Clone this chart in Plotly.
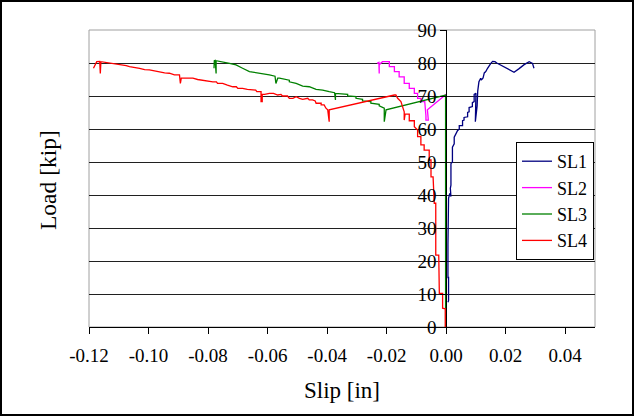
import plotly.graph_objects as go

# load-slip readings
sl1_slip = [0.0006, 0.0008, 0.0008, 0.0006, 0.0006, 0.0008, 0.0008, 0.0012, 0.0016, 0.0014,
            0.0016, 0.0016, 0.0021, 0.0021, 0.0027, 0.0027, 0.0033, 0.0038, 0.0044, 0.0044,
            0.0055, 0.0055, 0.0060, 0.0060, 0.0072, 0.0072, 0.0077, 0.0077, 0.0088, 0.0088,
            0.0094, 0.0094, 0.0100, 0.0098, 0.0104, 0.0106, 0.0110, 0.0116, 0.0118, 0.0124,
            0.0128, 0.0133, 0.0139, 0.0145, 0.0150, 0.0156, 0.0164, 0.0170, 0.0228, 0.0245,
            0.0262, 0.0279, 0.0290, 0.0295]
sl1_load = [7.5, 8.0, 15.0, 15.0, 25.0, 32.0, 39.0, 40.5, 39.5, 42.0,
            43.0, 49.5, 50.0, 54.5, 55.5, 57.5, 58.5, 59.5, 60.0, 61.0,
            61.0, 62.5, 62.7, 63.5, 63.7, 65.0, 65.2, 66.5, 66.8, 68.0,
            68.3, 70.5, 70.8, 62.2, 67.0, 71.5, 74.3, 75.4, 74.8, 75.5,
            77.0, 77.4, 78.4, 79.5, 79.9, 80.5, 80.4, 80.0, 77.2, 78.3,
            79.5, 80.4, 79.9, 78.4]

sl2_slip = [0.0, 0.0, -0.0063, -0.0060, -0.0068, -0.0068, -0.0072, -0.0085, -0.0085, -0.0096,
            -0.0096, -0.0107, -0.0107, -0.0124, -0.0124, -0.0141, -0.0141, -0.0158, -0.0158, -0.0174,
            -0.0174, -0.0191, -0.0191, -0.0214, -0.0225, -0.0225, -0.0226, -0.0232]
sl2_load = [0.0, 70.5, 65.8, 62.7, 62.7, 64.0, 68.3, 68.3, 69.3, 69.3,
            70.8, 70.8, 72.3, 72.3, 73.8, 73.8, 75.8, 75.8, 77.4, 77.4,
            78.9, 78.9, 80.4, 80.4, 79.5, 76.8, 80.2, 79.9]

sl3_slip = [-0.0002, -0.0002, -0.0202, -0.0208, -0.0208, -0.0225, -0.0225, -0.0253, -0.0253, -0.0281,
            -0.0281, -0.0303, -0.0303, -0.0331, -0.0331, -0.0353, -0.0372, -0.0372, -0.0375, -0.0393,
            -0.0415, -0.0437, -0.0460, -0.0482, -0.0504, -0.0527, -0.0527, -0.0560, -0.0566, -0.0572,
            -0.0575, -0.0594, -0.0628, -0.0661, -0.0684, -0.0706, -0.0728, -0.0762, -0.0773, -0.0773,
            -0.0776, -0.0779, -0.0780]
sl3_load = [0.0, 70.3, 65.8, 62.2, 66.3, 67.0, 67.5, 67.8, 68.3, 68.5,
            69.0, 69.3, 69.8, 70.0, 70.5, 70.6, 70.8, 68.8, 71.0, 71.3,
            71.8, 72.0, 72.8, 73.0, 73.8, 74.3, 74.8, 75.4, 75.4, 73.8,
            76.0, 76.4, 76.9, 77.4, 78.4, 79.4, 79.9, 80.4, 80.7, 76.8,
            80.8, 80.7, 78.4]

sl4_slip = [-0.0003, -0.0003, -0.0012, -0.0012, -0.0023, -0.0023, -0.0025, -0.0035, -0.0035, -0.0040,
            -0.0044, -0.0051, -0.0051, -0.0057, -0.0057, -0.0074, -0.0074, -0.0085, -0.0085, -0.0096,
            -0.0096, -0.0107, -0.0107, -0.0124, -0.0124, -0.0138, -0.0141, -0.0141, -0.0147, -0.0152,
            -0.0163, -0.0169, -0.0174, -0.0393, -0.0393, -0.0398, -0.0404, -0.0410, -0.0420, -0.0420,
            -0.0437, -0.0440, -0.0449, -0.0460, -0.0465, -0.0482, -0.0493, -0.0504, -0.0515, -0.0527,
            -0.0533, -0.0550, -0.0555, -0.0566, -0.0580, -0.0594, -0.0610, -0.0618, -0.0618, -0.0622,
            -0.0622, -0.0636, -0.0640, -0.0650, -0.0668, -0.0684, -0.0700, -0.0705, -0.0717, -0.0735,
            -0.0751, -0.0768, -0.0772, -0.0784, -0.0800, -0.0818, -0.0835, -0.0851, -0.0870, -0.0890,
            -0.0893, -0.0896, -0.0913, -0.0930, -0.0946, -0.0963, -0.0980, -0.0997, -0.1013, -0.1030,
            -0.1047, -0.1064, -0.1075, -0.1087, -0.1104, -0.1121, -0.1135, -0.1148, -0.1160, -0.1162,
            -0.1164, -0.1174, -0.1180, -0.1185]
sl4_load = [0.0, 5.5, 5.7, 10.2, 10.2, 13.7, 21.8, 21.8, 37.5, 37.5,
            45.5, 45.5, 50.6, 50.6, 53.6, 53.6, 55.2, 55.2, 57.7, 57.7,
            59.7, 60.7, 62.5, 62.5, 64.5, 64.5, 62.7, 65.2, 66.8, 68.3,
            69.3, 70.3, 70.3, 65.8, 62.2, 65.8, 66.3, 67.3, 67.3, 67.8,
            67.8, 68.5, 68.8, 68.8, 69.3, 69.0, 69.3, 69.8, 69.3, 69.3,
            70.0, 70.0, 70.5, 70.3, 70.8, 70.8, 70.5, 70.5, 68.3, 68.3,
            71.3, 71.3, 71.8, 71.8, 72.0, 72.3, 72.3, 72.8, 72.8, 73.3,
            73.8, 73.8, 74.3, 74.3, 74.5, 74.8, 75.0, 75.4, 75.4, 75.4,
            73.8, 76.4, 76.4, 76.9, 77.0, 77.4, 77.6, 77.9, 78.0, 78.4,
            78.6, 78.9, 79.2, 79.4, 79.6, 79.9, 80.2, 80.4, 80.4, 76.8,
            80.5, 80.4, 79.4, 78.4]

x_ticks = [-0.12, -0.10, -0.08, -0.06, -0.04, -0.02, 0.0, 0.02, 0.04]
x_labels = ['-0.12', '-0.10', '-0.08', '-0.06', '-0.04', '-0.02', '0.00', '0.02', '0.04']

series = [
    ('SL1', sl1_slip, sl1_load, '#000080'),
    ('SL2', sl2_slip, sl2_load, '#FF00FF'),
    ('SL3', sl3_slip, sl3_load, '#008000'),
    ('SL4', sl4_slip, sl4_load, '#FF0000'),
]

FONT = 'Times New Roman, Liberation Serif, serif'
W, H = 634, 416
ML, MR, MT, MB = 89, 39, 30, 89
pw, ph = W - ML - MR, H - MT - MB

fig = go.Figure()
for name, xs, ys, col in series:
    fig.add_trace(go.Scatter(x=xs, y=ys, mode='lines', name=name, legendgroup=name,
                             line=dict(color=col, width=1.3)))

# y axis sits at slip = 0
xmin, xmax = -0.12, 0.05
ypos = (0 - xmin) / (xmax - xmin)

fig.update_layout(
    width=W, height=H,
    margin=dict(l=ML, r=MR, t=MT, b=MB),
    paper_bgcolor='white', plot_bgcolor='white',
    font=dict(family=FONT, size=18, color='black'),
    showlegend=True,
    legend=dict(x=(594 - ML) / pw, y=(MT + ph - 142) / ph, xanchor='right', yanchor='top',
                bgcolor='white', bordercolor='black', borderwidth=1, itemwidth=30,
                font=dict(family=FONT, size=18), tracegroupgap=0),
    xaxis=dict(range=[xmin, xmax], tickvals=x_ticks, ticktext=x_labels,
               ticks='outside', ticklen=6, tickcolor='black', ticklabelstandoff=5,
               showgrid=False, zeroline=False, showline=True, linecolor='black', linewidth=1,
               tickfont=dict(family=FONT, size=19)),
    yaxis=dict(range=[0, 90], dtick=10, ticks='outside', ticklen=6, tickcolor='black',
               anchor='free', position=ypos,
               showgrid=True, gridcolor='#202020', gridwidth=1,
               zeroline=False, showline=True, linecolor='black', linewidth=1,
               tickfont=dict(family=FONT, size=19)),
    shapes=[
        # grey plot-area frame
        dict(type='rect', xref='paper', yref='paper', x0=0, x1=1, y0=0, y1=1,
             line=dict(color='#A0A0A0', width=1), layer='below'),
        # outer chart border
        dict(type='rect', xref='paper', yref='paper',
             x0=-(ML - 1) / pw, x1=(pw + MR - 1) / pw,
             y0=-(MB - 1) / ph, y1=(ph + MT - 1) / ph,
             line=dict(color='black', width=2)),
    ],
    annotations=[
        dict(text='Load [kip]', xref='paper', yref='paper', x=(48 - ML) / pw, y=(MT + ph - 180) / ph,
             xanchor='center', yanchor='middle',
             textangle=-90, showarrow=False, font=dict(family=FONT, size=23.5)),
        dict(text='Slip [in]', xref='paper', yref='paper', x=(342 - ML) / pw, y=-(390 - MT - ph) / ph,
             xanchor='center', yanchor='middle',
             showarrow=False, font=dict(family=FONT, size=23)),
    ],
)

fig.write_html("out.html", config={'displayModeBar': False},
               post_script="document.body.style.margin='0';")
